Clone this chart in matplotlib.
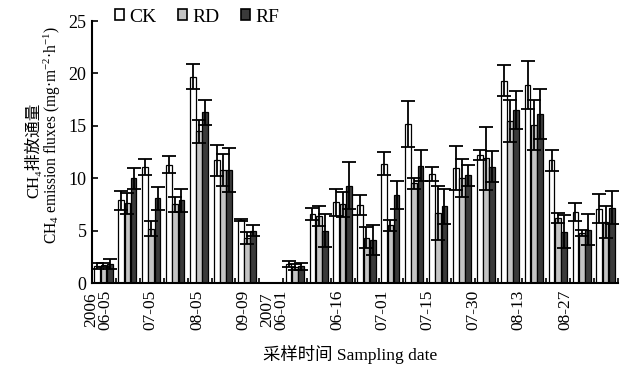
import numpy as np
import matplotlib
matplotlib.use('Agg')
import matplotlib.pyplot as plt
from matplotlib.patches import Patch

plt.rcParams['font.family'] = ['Liberation Serif', 'Noto Sans CJK SC', 'DejaVu Serif']
plt.rcParams['mathtext.fontset'] = 'custom'
plt.rcParams['mathtext.rm'] = 'Liberation Serif'
plt.rcParams['mathtext.default'] = 'regular'

# ---------------- data ----------------
series = ['CK', 'RD', 'RF']

ck_2006 = [1.6, 7.9, 11.1, 11.3, 19.7, 11.7, 6.0]
ck_2006_err = [0.3, 0.9, 0.75, 0.8, 1.2, 1.5, 0.1]
rd_2006 = [1.7, 7.6, 5.2, 7.5, 14.5, 10.8, 4.3]
rd_2006_err = [0.2, 1.0, 0.7, 0.7, 1.1, 1.5, 0.6]
rf_2006 = [1.8, 10.0, 8.1, 7.9, 16.3, 10.8, 5.0]
rf_2006_err = [0.5, 1.0, 1.1, 1.1, 1.2, 2.1, 0.5]

ck_2007 = [1.8, 6.6, 7.7, 7.4, 11.4, 15.2, 10.4, 11.0, 12.2, 19.3, 18.9, 11.7, 6.8, 7.1]
ck_2007_err = [0.3, 0.55, 1.3, 0.95, 1.1, 2.2, 0.65, 2.1, 0.5, 1.5, 2.3, 1.0, 0.85, 1.4]
rd_2007 = [1.5, 6.4, 7.5, 4.3, 5.5, 9.5, 6.7, 10.0, 11.9, 15.5, 15.1, 6.2, 4.8, 5.8]
rd_2007_err = [0.3, 0.95, 1.2, 1.0, 0.5, 0.5, 2.6, 1.8, 3.0, 2.0, 2.4, 0.5, 0.3, 1.5]
rf_2007 = [1.6, 5.0, 9.3, 4.1, 8.4, 11.2, 7.3, 10.3, 11.1, 16.5, 16.1, 4.9, 5.1, 7.2]
rf_2007_err = [0.35, 1.6, 2.2, 1.4, 1.3, 1.5, 1.65, 1.0, 1.45, 1.85, 2.4, 1.6, 1.5, 1.6]

tick_labels = ['2006\n06-05', '07-05', '08-05', '09-09', '2007\n06-01',
               '06-16', '07-01', '07-15', '07-30', '08-13', '08-27']

# ---------------- layout ----------------
label_pos = [0.27, 2.43, 4.39, 6.32, 7.62, 10.25, 12.13, 14.02, 15.94, 17.82, 19.79]
colors = ['white', '#c4c4c4', '#3a3a3a']
offsets = [0.22, 0.48, 0.74]
bar_w = 0.24

x06 = np.arange(len(ck_2006))
x07 = np.arange(len(ck_2007)) + len(ck_2006) + 1
n_slots = len(ck_2006) + 1 + len(ck_2007)

fig = plt.figure(figsize=(6.21, 3.72), dpi=100)
ax = fig.add_axes([92 / 621, 1 - 283 / 372, 526 / 621, 262 / 372])

data = [
    ((ck_2006, ck_2006_err), (ck_2007, ck_2007_err)),
    ((rd_2006, rd_2006_err), (rd_2007, rd_2007_err)),
    ((rf_2006, rf_2006_err), (rf_2007, rf_2007_err)),
]
for i, ((v6, e6), (v7, e7)) in enumerate(data):
    for xs, v, e in ((x06, v6, e6), (x07, v7, e7)):
        ax.bar(xs + offsets[i], v, width=bar_w, color=colors[i], edgecolor='black',
               linewidth=0.9, yerr=e, capsize=5,
               error_kw=dict(elinewidth=1.3, capthick=1.3, ecolor='black'))

ax.set_xlim(0, n_slots)
ax.set_ylim(0, 25)
ax.set_yticks(np.arange(0, 26, 5))
ax.tick_params(axis='y', direction='in', length=4, width=1.2, labelsize=13, pad=4)
ax.set_xticks(label_pos)
ax.set_xticklabels(tick_labels, rotation=90, fontsize=12.5, linespacing=0.9)
ax.tick_params(axis='x', which='major', length=0, pad=5)
ax.set_xticks(np.arange(0, n_slots + 1), minor=True)
ax.tick_params(axis='x', which='minor', direction='in', length=3.5, width=1.2)
for s in ['top', 'right']:
    ax.spines[s].set_visible(False)
for s in ['left', 'bottom']:
    ax.spines[s].set_linewidth(1.5)

handles = [Patch(facecolor=c, edgecolor='black', linewidth=1.2) for c in colors]
fig.legend(handles, series, loc='center left', bbox_to_anchor=(115 / 621, 1 - 17 / 372),
           ncol=3, frameon=False, fontsize=14, handlelength=0.45, handleheight=0.5,
           handletextpad=0.3, columnspacing=1.1, borderaxespad=0, borderpad=0)

fig.text(34 / 621, 1 - 150 / 372, 'CH₄排放通量', rotation=90, ha='center', va='center',
         fontsize=12)
fig.text(52 / 621, 1 - 135 / 372, r'CH$_4$ emission fluxes (mg·m$^{-2}$·h$^{-1}$)',
         rotation=90, ha='center', va='center', fontsize=11.2)
fig.text(350 / 621, 1 - 355 / 372, '采样时间 Sampling date', ha='center', va='center',
         fontsize=12.5)

fig.savefig('out.png', dpi=100)
